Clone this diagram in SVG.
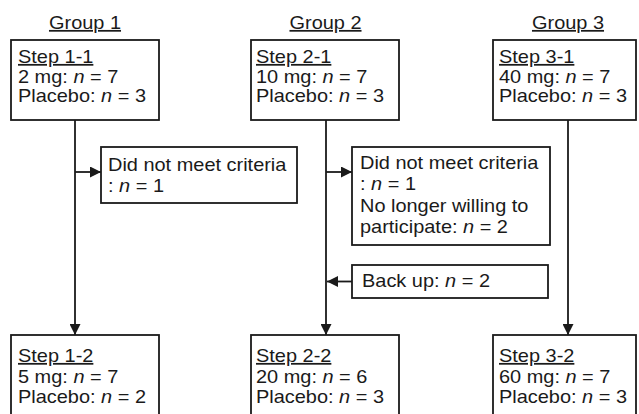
<svg xmlns="http://www.w3.org/2000/svg" width="639" height="414" viewBox="0 0 639 414">
<style>
text { font-family: "Liberation Sans", Arial, sans-serif; font-size: 17.5px; fill: #1a1a1a; }
.u { text-decoration: underline; }
.i { font-style: italic; }
.box { fill: #ffffff; stroke: #1a1a1a; stroke-width: 1.8; }
.ln { fill: none; stroke: #1a1a1a; stroke-width: 1.8; }
</style>
<defs>
<marker id="ah" viewBox="0 0 11 11" refX="11" refY="5.5" markerWidth="11" markerHeight="11" markerUnits="userSpaceOnUse" orient="auto">
<path d="M0,0 L11,5.5 L0,11 Z" fill="#1a1a1a"/>
</marker>
</defs>
<rect width="639" height="414" fill="#ffffff"/>

<g id="titles">
<text class="u" text-anchor="middle" transform="translate(85,29) scale(1.14,1)">Group 1</text>
<text class="u" text-anchor="middle" transform="translate(325.5,29) scale(1.14,1)">Group 2</text>
<text class="u" text-anchor="middle" transform="translate(568,29) scale(1.14,1)">Group 3</text>
</g>

<g id="connectors">
<line class="ln" x1="75" y1="120" x2="75" y2="335" marker-end="url(#ah)"/>
<line class="ln" x1="75" y1="172" x2="101" y2="172" marker-end="url(#ah)"/>
<line class="ln" x1="326" y1="120" x2="326" y2="335" marker-end="url(#ah)"/>
<line class="ln" x1="326" y1="172" x2="352" y2="172" marker-end="url(#ah)"/>
<line class="ln" x1="352" y1="281.5" x2="327" y2="281.5" marker-end="url(#ah)"/>
<line class="ln" x1="568" y1="120" x2="568" y2="335" marker-end="url(#ah)"/>
</g>

<g id="step1-1">
<rect class="box" x="11" y="40" width="148" height="80"/>
<text class="u" transform="translate(18,63) scale(1.14,1)">Step 1-1</text>
<text transform="translate(18,82.5) scale(1.14,1)">2 mg: <tspan class="i">n</tspan> = 7</text>
<text transform="translate(18,102) scale(1.14,1)">Placebo: <tspan class="i">n</tspan> = 3</text>
</g>

<g id="step2-1">
<rect class="box" x="251" y="40" width="148" height="80"/>
<text class="u" transform="translate(256,63) scale(1.14,1)">Step 2-1</text>
<text transform="translate(256,82.5) scale(1.14,1)">10 mg: <tspan class="i">n</tspan> = 7</text>
<text transform="translate(256,102) scale(1.14,1)">Placebo: <tspan class="i">n</tspan> = 3</text>
</g>

<g id="step3-1">
<rect class="box" x="493" y="40" width="143" height="80"/>
<text class="u" transform="translate(499,63) scale(1.14,1)">Step 3-1</text>
<text transform="translate(499,82.5) scale(1.14,1)">40 mg: <tspan class="i">n</tspan> = 7</text>
<text transform="translate(499,102) scale(1.14,1)">Placebo: <tspan class="i">n</tspan> = 3</text>
</g>

<g id="excl1">
<rect class="box" x="101" y="147" width="196" height="56"/>
<text transform="translate(108,170.5) scale(1.14,1)">Did not meet criteria</text>
<text transform="translate(108,191.5) scale(1.14,1)">: <tspan class="i">n</tspan> = 1</text>
</g>

<g id="excl2">
<rect class="box" x="352" y="147" width="198" height="98"/>
<text transform="translate(360,168.5) scale(1.14,1)">Did not meet criteria</text>
<text transform="translate(360,190) scale(1.14,1)">: <tspan class="i">n</tspan> = 1</text>
<text transform="translate(360,211.5) scale(1.14,1)">No longer willing to</text>
<text transform="translate(360,233) scale(1.14,1)">participate: <tspan class="i">n</tspan> = 2</text>
</g>

<g id="backup">
<rect class="box" x="352" y="265" width="196" height="33"/>
<text transform="translate(362,287) scale(1.14,1)">Back up: <tspan class="i">n</tspan> = 2</text>
</g>

<g id="step1-2">
<rect class="box" x="11" y="335" width="148" height="90"/>
<text class="u" transform="translate(18,362) scale(1.14,1)">Step 1-2</text>
<text transform="translate(18,382.5) scale(1.14,1)">5 mg: <tspan class="i">n</tspan> = 7</text>
<text transform="translate(18,402.5) scale(1.14,1)">Placebo: <tspan class="i">n</tspan> = 2</text>
</g>

<g id="step2-2">
<rect class="box" x="251" y="335" width="148" height="90"/>
<text class="u" transform="translate(256,362) scale(1.14,1)">Step 2-2</text>
<text transform="translate(256,382.5) scale(1.14,1)">20 mg: <tspan class="i">n</tspan> = 6</text>
<text transform="translate(256,402.5) scale(1.14,1)">Placebo: <tspan class="i">n</tspan> = 3</text>
</g>

<g id="step3-2">
<rect class="box" x="493" y="335" width="143" height="90"/>
<text class="u" transform="translate(499,362) scale(1.14,1)">Step 3-2</text>
<text transform="translate(499,382.5) scale(1.14,1)">60 mg: <tspan class="i">n</tspan> = 7</text>
<text transform="translate(499,402.5) scale(1.14,1)">Placebo: <tspan class="i">n</tspan> = 3</text>
</g>
</svg>
